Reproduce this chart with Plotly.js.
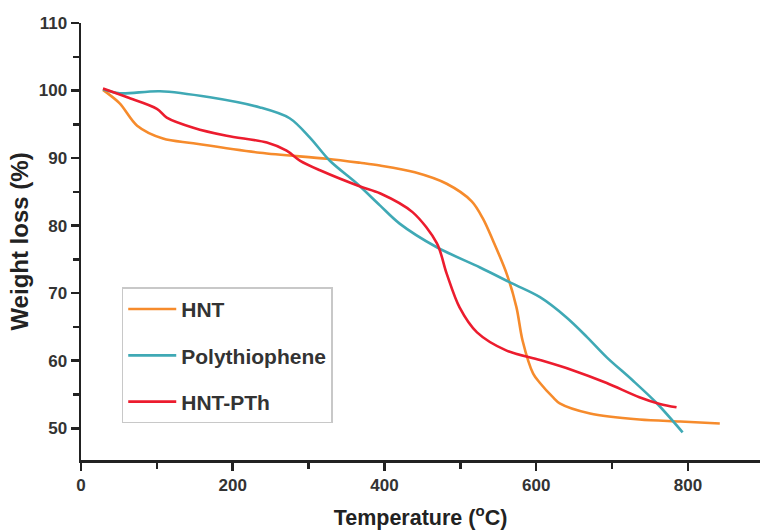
<!DOCTYPE html>
<html>
<head>
<meta charset="utf-8">
<script src="https://cdn.plot.ly/plotly-3.0.1.min.js"></script>
<style>html,body{margin:0;padding:0;background:#fff;}#chart{width:761px;height:530px;}</style>
</head>
<body>
<div id="chart"></div>
<script>
const seriesNames = ["HNT", "Polythiophene", "HNT-PTh"];
const seriesColors = ["#F68B2C", "#3FA9B5", "#EC1C2E"];

const hntTemp = [29, 51, 74, 108, 148, 236, 324, 368, 394, 440, 482, 515, 530, 543, 561, 574, 582, 596, 605, 622, 631, 671, 736, 790, 842];
const hntWeight = [100.1, 98.1, 94.8, 92.9, 92.2, 90.8, 89.9, 89.3, 88.9, 87.9, 86.2, 83.6, 81.0, 77.8, 72.9, 67.9, 63.0, 58.1, 56.7, 54.6, 53.7, 52.2, 51.3, 51.0, 50.7];

const ptTemp = [29, 51, 104, 170, 236, 275, 302, 328, 364, 394, 420, 469, 526, 569, 605, 640, 667, 693, 727, 759, 793];
const ptWeight = [100.2, 99.6, 99.9, 99.0, 97.5, 95.9, 93.0, 89.6, 86.2, 83.0, 80.3, 76.8, 73.8, 71.4, 69.4, 66.4, 63.5, 60.5, 57.1, 53.7, 49.4];

const hybTemp = [29, 61, 100, 113, 148, 192, 245, 271, 289, 315, 368, 394, 437, 469, 482, 499, 522, 561, 605, 648, 693, 736, 763, 785];
const hybWeight = [100.3, 99.0, 97.3, 96.0, 94.5, 93.3, 92.3, 91.1, 89.6, 88.2, 85.8, 84.8, 82.0, 77.4, 72.9, 67.9, 64.2, 61.5, 60.1, 58.6, 56.7, 54.6, 53.6, 53.1];

const xTickVals = [0, 200, 400, 600, 800];
const yTickVals = [50, 60, 70, 80, 90, 100, 110];

const xs = [hntTemp, ptTemp, hybTemp];
const ys = [hntWeight, ptWeight, hybWeight];

const traces = seriesNames.map((n, i) => ({
  x: xs[i], y: ys[i], name: n, type: 'scatter', mode: 'lines',
  line: {color: seriesColors[i], width: 2.6, shape: 'spline', smoothing: 0.9},
  legendgroup: 'g' + i
}));

const fam = 'Liberation Sans, Arial, sans-serif';
const tickFont = {family: fam, size: 17, color: '#333', weight: 'bold'};
const layout = {
  width: 761, height: 530,
  margin: {l: 81, r: 1, t: 23, b: 70},
  paper_bgcolor: '#fff', plot_bgcolor: '#fff',
  showlegend: true,
  legend: {
    x: 0.06, y: 0.395, xanchor: 'left', yanchor: 'top',
    bgcolor: '#fff', bordercolor: '#c8c8c8', borderwidth: 1.5,
    font: {family: fam, size: 21, color: '#333', weight: 'bold'},
    traceorder: 'grouped', tracegroupgap: 16,
    itemwidth: 48
  },
  xaxis: {
    range: [0, 895], showgrid: false, zeroline: false,
    showline: true, linecolor: '#222', linewidth: 2.5,
    ticks: 'outside', ticklen: 8, tickwidth: 2.5, tickcolor: '#222',
    tickvals: xTickVals, ticktext: xTickVals.map(String),
    minor: {dtick: 100, tick0: 0, ticks: 'outside', ticklen: 6, tickwidth: 2.5, tickcolor: '#222'},
    tickfont: tickFont,
    title: {text: 'Temperature (<sup>o</sup>C)', standoff: 16,
      font: {family: fam, size: 21.5, color: '#222', weight: 'bold'}}
  },
  yaxis: {
    range: [45.3, 110], showgrid: false, zeroline: false,
    showline: true, linecolor: '#222', linewidth: 2.5,
    ticks: 'outside', ticklen: 8, tickwidth: 2.5, tickcolor: '#222',
    tickvals: yTickVals, ticktext: yTickVals.map(String),
    minor: {dtick: 5, tick0: 0, ticks: 'outside', ticklen: 6, tickwidth: 2.5, tickcolor: '#222'},
    tickfont: tickFont,
    title: {text: 'Weight loss (%)', standoff: 4,
      font: {family: fam, size: 24, color: '#222', weight: 'bold'}}
  }
};

Plotly.newPlot('chart', traces, layout, {displayModeBar: false, staticPlot: true});
</script>
</body>
</html>
